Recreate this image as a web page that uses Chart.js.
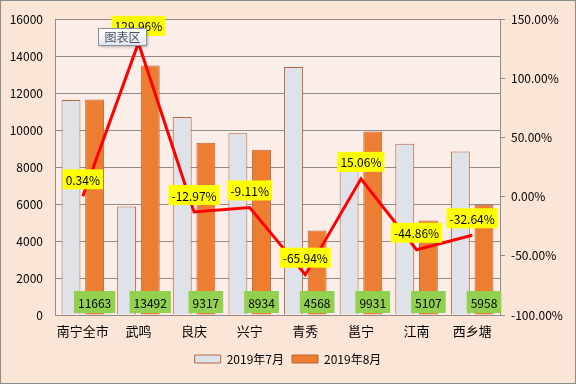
<!DOCTYPE html>
<html>
<head>
<meta charset="utf-8">
<script src="https://cdn.jsdelivr.net/npm/chart.js@4/dist/chart.umd.min.js"></script>
<style>
  html, body { margin: 0; padding: 0; background: #fbe5d6; }
  #wrap { width: 576px; height: 384px; position: relative; }
</style>
</head>
<body>
<div id="wrap"><canvas id="grafico"></canvas></div>
<script>
const categorias = ["南宁全市", "武鸣", "良庆", "兴宁", "青秀", "邕宁", "江南", "西乡塘"];
const julho = [11623, 5867, 10705, 9829, 13412, 8631, 9262, 8845];
const agosto = [11663, 13492, 9317, 8934, 4568, 9931, 5107, 5958];
const crescimento = [0.34, 129.96, -12.97, -9.11, -65.94, 15.06, -44.86, -32.64];

const fonte = "'Noto Sans CJK SC', 'Noto Sans', sans-serif";
const corGrade = "#968a84";

// fundo da área do gráfico, borda externa e rótulos
const extras = {
  id: "extras",
  beforeDraw(chart) {
    const { ctx, chartArea: a } = chart;
    ctx.save();
    ctx.fillStyle = "#fbede7";
    ctx.fillRect(a.left, a.top, a.right - a.left, a.bottom - a.top);
    ctx.restore();
  },
  afterDatasetsDraw(chart) {
    const ctx = chart.ctx;
    ctx.save();
    ctx.font = "12px " + fonte;
    ctx.textAlign = "center";
    ctx.textBaseline = "middle";

    // rótulos verdes das barras de agosto
    const metaAgo = chart.getDatasetMeta(1);
    const y0 = chart.scales.y.getPixelForValue(0);
    metaAgo.data.forEach((bar, i) => {
      const txt = String(agosto[i]);
      const w = ctx.measureText(txt).width + 8;
      const h = 22;
      const cy = y0 - 13;
      ctx.fillStyle = "#92d050";
      ctx.fillRect(bar.x - w / 2, cy - h / 2, w, h);
      ctx.fillStyle = "#000";
      ctx.fillText(txt, bar.x, cy + 1);
    });

    // rótulos amarelos da linha
    const metaLinha = chart.getDatasetMeta(2);
    metaLinha.data.forEach((pt, i) => {
      const txt = crescimento[i].toFixed(2) + "%";
      const w = ctx.measureText(txt).width + 6;
      const h = 20;
      const cy = pt.y - 17;
      ctx.fillStyle = "#ffff00";
      ctx.fillRect(pt.x - w / 2, cy - h / 2, w, h);
      ctx.fillStyle = "#000";
      ctx.fillText(txt, pt.x, cy + 1);
    });
    ctx.restore();
  },
  afterDraw(chart) {
    const ctx = chart.ctx;
    ctx.save();
    // dica "图表区"
    const g = ctx.createLinearGradient(0, 28, 0, 45);
    g.addColorStop(0, "#ffffff");
    g.addColorStop(1, "#e4e8ee");
    ctx.shadowColor = "rgba(0,0,0,0.35)";
    ctx.shadowBlur = 3;
    ctx.shadowOffsetX = 1;
    ctx.shadowOffsetY = 1;
    ctx.fillStyle = g;
    ctx.fillRect(98.5, 28.5, 48, 17);
    ctx.shadowColor = "transparent";
    ctx.strokeStyle = "#8a8f99";
    ctx.lineWidth = 1;
    ctx.strokeRect(98.5, 28.5, 48, 17);
    ctx.fillStyle = "#4a5060";
    ctx.font = "12px " + fonte;
    ctx.textAlign = "center";
    ctx.textBaseline = "middle";
    ctx.fillText("图表区", 122.5, 37.5);
    // borda externa
    ctx.strokeStyle = "#8c8c8c";
    ctx.strokeRect(0.5, 0.5, 575, 383);
    ctx.restore();
  }
};

const ctx = document.getElementById("grafico").getContext("2d");
new Chart(ctx, {
  data: {
    labels: categorias,
    datasets: [
      {
        type: "bar",
        label: "2019年7月",
        data: julho,
        backgroundColor: "#dfe2e8",
        borderColor: "#b8683a",
        borderWidth: 1,
        yAxisID: "y",
        order: 1,
        categoryPercentage: 0.85,
        barPercentage: 0.8
      },
      {
        type: "bar",
        label: "2019年8月",
        data: agosto,
        backgroundColor: "#ed7d31",
        borderColor: "#b8683a",
        borderWidth: 1,
        yAxisID: "y",
        order: 1,
        categoryPercentage: 0.85,
        barPercentage: 0.8
      },
      {
        type: "line",
        label: "增长率",
        data: crescimento,
        borderColor: "#ff0000",
        borderWidth: 3,
        pointRadius: 0,
        tension: 0,
        fill: false,
        yAxisID: "y1",
        order: 0
      }
    ]
  },
  options: {
    responsive: true,
    maintainAspectRatio: false,
    animation: false,
    layout: { padding: { top: 7.8, bottom: 9, left: 0, right: 0 } },
    plugins: {
      tooltip: { enabled: false },
      legend: {
        position: "bottom",
        labels: {
          filter: item => item.datasetIndex < 2,
          sort: (a, b) => a.datasetIndex - b.datasetIndex,
          boxWidth: 26,
          boxHeight: 8,
          padding: 8,
          color: "#000",
          font: { family: fonte, size: 12 }
        }
      }
    },
    scales: {
      x: {
        grid: { display: false, drawTicks: false },
        border: { color: corGrade },
        ticks: { color: "#000", font: { family: fonte, size: 13 }, padding: 8, maxRotation: 0 },
        afterFit: s => { s.height = 30; }
      },
      y: {
        position: "left",
        min: 0,
        max: 16000,
        grid: { color: corGrade, drawTicks: false },
        border: { color: corGrade },
        ticks: {
          stepSize: 2000,
          color: "#000",
          font: { family: fonte, size: 12 },
          padding: 12,
          callback: v => String(v)
        },
        afterFit: s => { s.width = 55; }
      },
      y1: {
        position: "right",
        min: -100,
        max: 150,
        grid: { drawOnChartArea: false, color: corGrade, tickLength: 5 },
        border: { color: corGrade },
        ticks: {
          stepSize: 50,
          color: "#000",
          font: { family: fonte, size: 12 },
          padding: 6,
          callback: v => v.toFixed(2) + "%"
        },
        afterFit: s => { s.width = 76; }
      }
    }
  },
  plugins: [extras]
});
</script>
</body>
</html>
